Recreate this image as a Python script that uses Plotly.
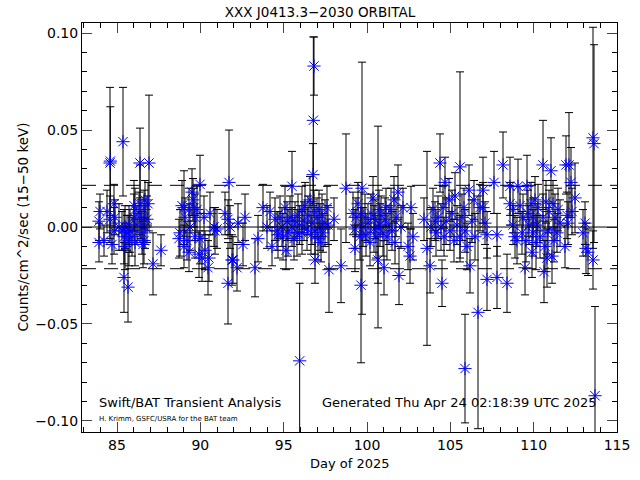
import plotly.graph_objects as go

# Light-curve points: (day, rate, error)
points = [
    # cluster near day 84-88
    (83.92, 0.003, 0.010), (83.92, -0.008, 0.010), (83.98, 0.008, 0.009), (84.22, -0.007, 0.008),
    (84.40, 0.008, 0.011), (84.58, 0.033, 0.039), (84.60, 0.034, 0.028), (84.58, 0.004, 0.012),
    (84.70, -0.009, 0.010), (84.82, 0.012, 0.010), (84.82, -0.002, 0.012), (84.88, 0.005, 0.009),
    (85.12, 0.000, 0.012), (85.30, -0.002, 0.010), (85.36, 0.044, 0.028), (85.42, -0.005, 0.014),
    (85.42, -0.026, 0.018), (85.48, 0.000, 0.011), (85.48, -0.010, 0.012), (85.60, -0.003, 0.009),
    (85.66, -0.031, 0.018), (85.72, -0.007, 0.013), (85.72, 0.001, 0.010), (85.78, -0.002, 0.011),
    (85.90, -0.005, 0.010), (86.02, 0.005, 0.012), (86.02, 0.011, 0.013), (86.08, -0.008, 0.012),
    (86.08, 0.009, 0.011), (86.20, 0.001, 0.010), (86.32, 0.007, 0.011), (86.38, 0.033, 0.018),
    (86.38, 0.012, 0.020), (86.44, 0.004, 0.010), (86.50, -0.003, 0.011), (86.56, -0.009, 0.012),
    (86.62, 0.009, 0.010), (86.68, 0.000, 0.011), (86.68, 0.014, 0.010), (86.80, 0.004, 0.012),
    (86.92, 0.033, 0.035), (86.86, 0.012, 0.011), (86.62, -0.007, 0.012), (87.16, -0.019, 0.016),
    (87.64, -0.012, 0.008),
    # cluster near day 89-91
    (88.72, -0.006, 0.010), (88.78, -0.003, 0.012), (88.90, 0.011, 0.013), (89.02, 0.010, 0.019),
    (89.02, -0.010, 0.011), (89.08, 0.005, 0.010), (89.20, -0.007, 0.010), (89.32, 0.009, 0.011),
    (89.32, -0.013, 0.010), (89.38, 0.000, 0.012), (89.50, 0.018, 0.012), (89.56, 0.014, 0.011),
    (89.62, 0.010, 0.010), (89.68, 0.005, 0.012), (89.68, -0.005, 0.011), (89.80, 0.009, 0.012),
    (89.92, -0.014, 0.012), (89.98, 0.022, 0.015), (89.98, -0.006, 0.013), (90.10, -0.016, 0.012),
    (90.22, 0.005, 0.011), (90.28, -0.012, 0.010), (90.46, -0.021, 0.014), (90.52, -0.016, 0.012),
    (90.58, 0.007, 0.011), (90.82, 0.000, 0.010), (90.88, -0.002, 0.012),
    # sparse days 91-93.5
    (91.00, -0.001, 0.010), (91.48, 0.007, 0.011), (91.66, 0.004, 0.010), (91.72, 0.023, 0.027),
    (91.78, 0.000, 0.011), (91.90, -0.017, 0.013), (91.96, -0.017, 0.012), (92.20, -0.021, 0.012),
    (91.66, -0.029, 0.021), (92.26, 0.002, 0.010), (92.56, -0.009, 0.011), (92.68, 0.005, 0.012),
    (93.28, -0.021, 0.015), (93.46, -0.006, 0.012),
    # cluster near day 94-98
    (93.76, 0.010, 0.012), (94.00, 0.000, 0.011), (94.18, 0.008, 0.010), (94.30, -0.010, 0.010),
    (94.48, 0.004, 0.011), (94.60, -0.002, 0.010), (94.66, -0.004, 0.012), (94.78, 0.005, 0.011),
    (94.90, 0.000, 0.010), (94.96, -0.005, 0.012), (95.08, 0.010, 0.011), (95.14, -0.012, 0.010),
    (95.20, 0.003, 0.010), (95.26, -0.003, 0.012), (95.38, 0.005, 0.011), (95.50, 0.021, 0.018),
    (95.50, 0.000, 0.010), (95.62, -0.006, 0.011), (95.68, 0.003, 0.010), (95.80, -0.003, 0.012),
    (95.86, 0.006, 0.011), (95.96, -0.069, 0.040), (95.96, 0.001, 0.010), (96.10, 0.009, 0.012),
    (96.10, -0.003, 0.011), (96.22, 0.003, 0.010), (96.28, 0.011, 0.012), (96.40, -0.001, 0.011),
    (96.46, 0.006, 0.010), (96.58, 0.014, 0.012), (96.64, -0.004, 0.010), (96.70, 0.002, 0.011),
    (96.76, 0.027, 0.016), (96.78, 0.055, 0.043), (96.82, 0.083, 0.015), (96.82, 0.008, 0.011),
    (96.88, -0.002, 0.012), (96.88, -0.017, 0.012), (97.00, 0.005, 0.010), (97.06, -0.006, 0.011),
    (97.12, 0.009, 0.010), (97.18, 0.000, 0.012), (97.24, -0.008, 0.010), (97.30, 0.006, 0.011),
    (97.36, -0.003, 0.010), (97.48, 0.002, 0.012), (97.60, 0.010, 0.011), (97.66, 0.001, 0.010),
    (97.72, -0.022, 0.022), (98.02, 0.004, 0.011), (98.44, -0.020, 0.019), (98.74, 0.020, 0.028),
    # cluster near day 99-103
    (99.16, 0.007, 0.011), (99.28, -0.001, 0.010), (99.28, -0.011, 0.012), (99.34, 0.005, 0.010),
    (99.46, 0.012, 0.011), (99.58, -0.005, 0.012), (99.64, -0.030, 0.040), (99.64, 0.007, 0.011),
    (99.70, 0.020, 0.065), (99.76, 0.000, 0.010), (99.88, 0.005, 0.012), (99.94, -0.004, 0.011),
    (100.06, 0.002, 0.010), (100.18, -0.008, 0.012), (100.24, 0.007, 0.010), (100.36, 0.015, 0.011),
    (100.42, -0.001, 0.012), (100.48, 0.004, 0.010), (100.54, -0.005, 0.011), (100.66, -0.017, 0.012),
    (100.66, 0.000, 0.052), (100.72, 0.009, 0.010), (100.78, 0.001, 0.011), (100.84, 0.006, 0.010),
    (100.96, -0.003, 0.012), (101.02, -0.021, 0.014), (101.08, 0.004, 0.011), (101.14, 0.010, 0.010),
    (101.20, -0.005, 0.012), (101.32, 0.001, 0.010), (101.44, 0.009, 0.011), (101.50, -0.002, 0.010),
    (101.62, 0.014, 0.012), (101.68, -0.008, 0.011), (101.74, 0.005, 0.010), (101.86, 0.018, 0.014),
    (101.92, -0.025, 0.015), (102.04, 0.000, 0.011), (102.16, 0.010, 0.010), (102.46, -0.010, 0.012),
    (102.58, -0.015, 0.014), (102.64, 0.010, 0.011), (102.76, -0.005, 0.012),
    # cluster near day 103.4-107
    (103.42, 0.004, 0.011), (103.60, -0.011, 0.050), (103.78, -0.020, 0.014), (103.84, 0.000, 0.010),
    (103.96, 0.009, 0.011), (104.08, 0.003, 0.010), (104.14, -0.003, 0.012), (104.26, 0.005, 0.011),
    (104.38, 0.033, 0.015), (104.44, 0.000, 0.012), (104.50, -0.029, 0.012), (104.56, 0.010, 0.011),
    (104.62, -0.005, 0.010), (104.68, 0.023, 0.013), (104.74, 0.003, 0.012), (104.92, 0.014, 0.011),
    (104.98, -0.002, 0.010), (105.10, 0.007, 0.012), (105.22, -0.007, 0.011), (105.28, 0.016, 0.012),
    (105.40, 0.001, 0.010), (105.58, 0.031, 0.049), (105.58, -0.005, 0.011), (105.70, 0.005, 0.012),
    (105.82, 0.010, 0.010), (105.88, -0.073, 0.028), (105.88, -0.002, 0.011), (106.00, -0.010, 0.012),
    (106.12, 0.019, 0.013), (106.18, -0.020, 0.014), (106.30, 0.003, 0.011), (106.42, 0.014, 0.010),
    (106.48, -0.005, 0.012), (106.66, -0.044, 0.060), (106.78, 0.010, 0.012),
    # cluster near day 107-114
    (106.96, 0.019, 0.017), (106.96, 0.010, 0.013), (107.08, 0.002, 0.011), (107.20, -0.027, 0.016),
    (107.20, -0.004, 0.012), (107.62, 0.023, 0.016), (107.80, -0.026, 0.016), (107.80, -0.004, 0.011),
    (108.16, 0.032, 0.017), (108.40, -0.029, 0.015), (108.58, 0.021, 0.015), (108.58, 0.012, 0.011),
    (108.76, 0.001, 0.010), (108.76, 0.009, 0.012), (108.88, -0.005, 0.011), (109.00, -0.007, 0.012),
    (109.06, 0.021, 0.014), (109.18, 0.011, 0.010), (109.30, -0.003, 0.011), (109.36, 0.005, 0.012),
    (109.48, -0.021, 0.014), (109.54, -0.007, 0.011), (109.60, 0.021, 0.016), (109.66, 0.007, 0.012),
    (109.72, 0.001, 0.010), (109.84, 0.012, 0.011), (109.90, -0.013, 0.013), (109.96, -0.003, 0.012),
    (109.96, 0.005, 0.010), (110.08, 0.014, 0.012), (110.14, -0.008, 0.014), (110.20, 0.001, 0.011),
    (110.26, 0.010, 0.012), (110.38, -0.005, 0.011), (110.56, 0.032, 0.023), (110.56, 0.005, 0.012),
    (110.62, -0.023, 0.016), (110.68, -0.010, 0.013), (110.74, 0.013, 0.011), (110.80, -0.016, 0.015),
    (110.86, -0.002, 0.012), (110.92, 0.008, 0.011), (111.04, 0.029, 0.017), (111.10, -0.015, 0.014),
    (111.16, 0.012, 0.012), (111.22, -0.007, 0.011), (111.28, 0.005, 0.012), (111.40, -0.003, 0.010),
    (111.46, 0.009, 0.011), (111.58, 0.002, 0.012), (111.88, -0.010, 0.011), (111.94, 0.032, 0.015),
    (112.00, 0.006, 0.012), (112.06, 0.002, 0.011), (112.12, 0.032, 0.027), (112.24, 0.023, 0.018),
    (112.30, 0.008, 0.012), (112.48, 0.015, 0.018), (112.96, -0.003, 0.012), (113.08, 0.002, 0.011),
    (113.14, -0.011, 0.013), (113.26, -0.013, 0.012), (113.56, -0.017, 0.015), (113.56, 0.046, 0.057),
    (113.62, 0.043, 0.051), (113.68, -0.087, 0.046),
]

days = [p[0] for p in points]
rates = [p[1] for p in points]
errors = [p[2] for p in points]

threshold = 0.0215
x_range = [82.9, 115.0]
y_range = [-0.1057, 0.1052]
x_ticks = [85, 90, 95, 100, 105, 110, 115]
y_ticks = [-0.10, -0.05, 0.0, 0.05, 0.10]

FONT = "DejaVu Sans"

fig = go.Figure()
fig.add_trace(go.Scatter(
    x=days, y=rates, mode="markers",
    marker=dict(symbol="asterisk-open", size=11, color="blue",
                line=dict(color="blue", width=1)),
    error_y=dict(type="data", array=errors, visible=True, color="black",
                 thickness=1, width=4),
    showlegend=False,
    cliponaxis=True,
))

fig.add_shape(type="line", xref="paper", x0=0, x1=1, yref="y", y0=0, y1=0,
              line=dict(color="black", width=1))
for yv in (threshold, -threshold):
    fig.add_shape(type="line", xref="paper", x0=0, x1=1, yref="y", y0=yv, y1=yv,
                  line=dict(color="black", width=1, dash="14px,8px"))

fig.update_layout(
    width=640, height=480,
    margin=dict(l=82, r=23, t=23, b=48, autoexpand=False),
    paper_bgcolor="white", plot_bgcolor="white",
    font=dict(family=FONT, size=13, color="black"),
    title=dict(text="XXX J0413.3\u22122030 ORBITAL", x=0.5, xanchor="center",
               yref="container", y=1 - 12 / 480, yanchor="middle",
               font=dict(family=FONT, size=13.5, color="black")),
    xaxis=dict(range=x_range, tickvals=x_ticks, ticks="inside", ticklen=10,
               showline=True, linecolor="black", linewidth=1, mirror="ticks",
               showgrid=False, zeroline=False, tickfont=dict(size=14), automargin=False,
               minor=dict(dtick=1, ticks="inside", ticklen=5, tickcolor="black", showgrid=False)),
    yaxis=dict(range=y_range, tickvals=y_ticks, tickformat=".2f", ticks="inside", ticklen=10,
               showline=True, linecolor="black", linewidth=1, mirror="ticks",
               showgrid=False, zeroline=False, tickfont=dict(size=14), automargin=False,
               minor=dict(dtick=0.01, ticks="inside", ticklen=5, tickcolor="black", showgrid=False)),
    annotations=[
        dict(text="Day of 2025", xref="paper", yref="paper", x=0.5, y=-0.076,
             xanchor="center", yanchor="middle", showarrow=False, font=dict(size=13)),
        dict(text="Counts/cm^2/sec (15\u221250 keV)", xref="paper", yref="paper",
             x=-0.112, y=0.5, xanchor="center", yanchor="middle", textangle=-90,
             showarrow=False, font=dict(size=13.5)),
        dict(text="Swift/BAT Transient Analysis", xref="paper", yref="paper",
             x=0.028, y=0.071, xanchor="left", yanchor="middle", showarrow=False,
             font=dict(size=13)),
        dict(text="H. Krimm, GSFC/USRA for the BAT team", xref="paper", yref="paper",
             x=0.028, y=0.032, xanchor="left", yanchor="middle", showarrow=False,
             font=dict(size=7)),
        dict(text="Generated Thu Apr 24 02:18:39 UTC 2025", xref="paper", yref="paper",
             x=0.445, y=0.071, xanchor="left", yanchor="middle", showarrow=False,
             font=dict(size=13)),
    ],
)

fig.write_html("out.html", config={"displayModeBar": False},
               post_script="document.body.style.margin='0';")
